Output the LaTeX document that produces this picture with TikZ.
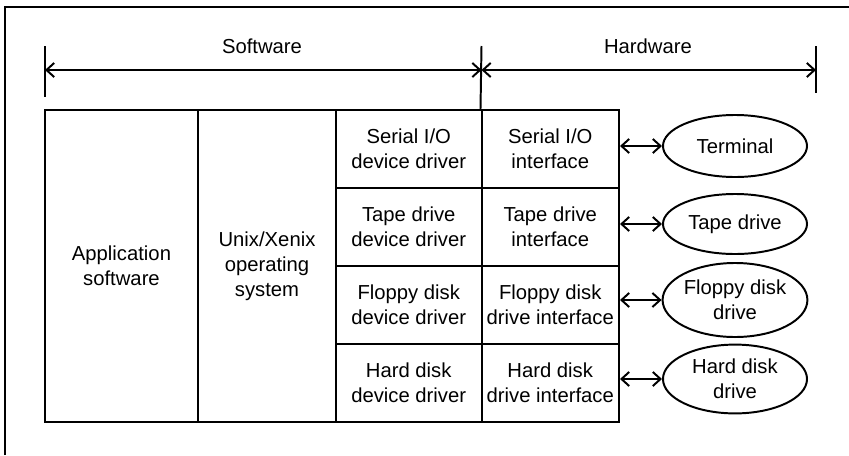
\documentclass[tikz,border=0pt]{standalone}
\usepackage{fontspec}
\setmainfont{Liberation Sans}
\usetikzlibrary{arrows.meta, positioning, shapes.geometric}

\begin{document}
\begin{tikzpicture}[
  x=0.025cm, y=-0.025cm,
  line width=1.4pt,
  every node/.style={font=\fontsize{14.4}{17.8}\selectfont, align=center},
  cell/.style={draw, line width=1.4pt, inner sep=0pt,
    minimum width=#1, minimum height=1.95cm},
  col/.style={draw, line width=1.4pt, inner sep=0pt,
    minimum width=#1, minimum height=7.8cm},
  dev/.style={draw, ellipse, line width=1.4pt, inner sep=0pt,
    minimum width=3.6cm, minimum height=#1},
  dbl/.style={{Straight Barb[length=5.5pt,width=10pt]}-{Straight Barb[length=5.5pt,width=10pt]}, line width=1.4pt}
]
\useasboundingbox (0,0) rectangle (849,455);
% frame
\coordinate (frametl) at (5,7);
\coordinate (frametr) at (849,7);
\coordinate (framebl) at (5,455);
\draw[line width=1pt] (framebl) -- (frametl) -- (frametr);

% software / hardware span
\coordinate (lefttop) at (45,46);
\coordinate (leftbot) at (45,97);
\coordinate (midtop)  at (481.5,46);
\coordinate (righttop) at (816,46);
\coordinate (rightbot) at (816,93);
\coordinate (swl) at (45,70);
\coordinate (swr) at (481.5,70);
\coordinate (hwr) at (816,70);
\draw (lefttop) -- (leftbot);
\draw (righttop) -- (rightbot);
\node (sw) at (262,46) {Software};
\node (hw) at (648,46) {Hardware};
\draw[dbl] (swl) -- (swr);
\draw[dbl] (swr) -- (hwr);

% layers
\node[col=3.825cm] (app)  at (121.5,266) {Application\\software};
\node[col=3.45cm]  (unix) at (267,266) {Unix/Xenix\\operating\\system};
\node[cell=3.6375cm] (drvser)  at (408.75,149) {Serial I/O\\device driver};
\node[cell=3.6375cm] (drvtape) at (408.75,227) {Tape drive\\device driver};
\node[cell=3.6375cm] (drvflop) at (408.75,305) {Floppy disk\\device driver};
\node[cell=3.6375cm] (drvhard) at (408.75,383) {Hard disk\\device driver};
\node[cell=3.4375cm] (ifser)  at (550.25,149) {Serial I/O\\interface};
\node[cell=3.4375cm] (iftape) at (550.25,227) {Tape drive\\interface};
\node[cell=3.4375cm] (ifflop) at (550.25,305) {Floppy disk\\drive interface};
\node[cell=3.4375cm] (ifhard) at (550.25,383) {Hard disk\\drive interface};
\draw (midtop) -- (ifser.north west);

% devices
\node[dev=1.55cm] (term)  at (735,146) {Terminal};
\node[dev=1.5cm]  (tape)  at (735,224) {Tape drive};
\node[dev=1.85cm] (floppy) at (735,300) {Floppy disk\\drive};
\node[dev=1.72cm] (hard)  at (735,379) {Hard disk\\drive};
\draw[dbl] (term.west -| ifser.east)  -- (term.west);
\draw[dbl] (tape.west -| iftape.east) -- (tape.west);
\draw[dbl] (floppy.west -| ifflop.east) -- (floppy.west);
\draw[dbl] (hard.west -| ifhard.east) -- (hard.west);
\end{tikzpicture}
\end{document}
